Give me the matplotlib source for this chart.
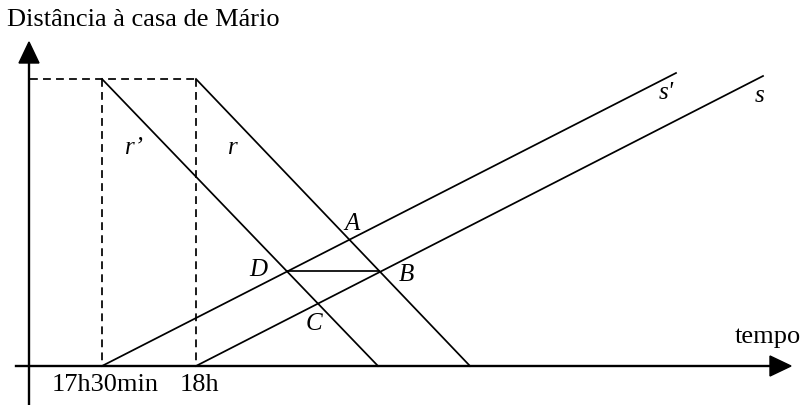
import matplotlib.pyplot as plt

# pontos do diagrama (coordenadas em pixels da figura)
t_r1 = 102      # 17h30min
t_r = 196       # 18h
y_top = 79
y_base = 366
r1_end = 378
r_end = 470
s1_end = (676, 73)
s_end = (763, 76)
D = (288, 271)
B = (379, 271)

labels_pts = {"A": (352, 224), "B": (406, 275), "C": (314, 324), "D": (258, 270),
              "r’": (134, 148), "r": (233, 148), "s'": (666, 93), "s": (760, 96)}

fig = plt.figure(figsize=(8.02, 4.05), dpi=100)
ax = fig.add_axes([0, 0, 1, 1])
ax.set_xlim(0, 802)
ax.set_ylim(405, 0)
ax.axis('off')

serif = ['Liberation Serif', 'DejaVu Serif']
k = dict(color='black', lw=1.25)
kd = dict(color='black', lw=1.25, dashes=(4.5, 3))

# eixos
ax.plot([29, 29], [405, 60], color='black', lw=1.7)
ax.plot([16, 772], [y_base, y_base], color='black', lw=1.7)
ax.fill([19, 39, 29], [63, 63, 42], color='black')
ax.fill([770, 770, 791], [356, 376, y_base], color='black')

# tracejados
ax.plot([30, t_r], [y_top, y_top], **kd)
ax.plot([t_r1, t_r1], [y_top, y_base], **kd)
ax.plot([t_r, t_r], [y_top, y_base], **kd)

# retas r, r', s, s'
ax.plot([t_r1, r1_end], [y_top, y_base], **k)
ax.plot([t_r, r_end], [y_top, y_base], **k)
ax.plot([t_r1, s1_end[0]], [y_base, s1_end[1]], **k)
ax.plot([t_r, s_end[0]], [y_base, s_end[1]], **k)
ax.plot([D[0], B[0]], [D[1], B[1]], **k)

for txt, (x, y) in labels_pts.items():
    ax.text(x, y, txt, fontsize=18, family=serif, style='italic', ha='center', va='center')

ax.text(7, 20, "Distância à casa de Mário", fontsize=19, family=serif, ha='left', va='center')
ax.text(52, 385, "17h30min", fontsize=19, family=serif, ha='left', va='center')
ax.text(180, 385, "18h", fontsize=19, family=serif, ha='left', va='center')
ax.text(735, 337, "tempo", fontsize=19, family=serif, ha='left', va='center')

fig.savefig('out.png', dpi=100)
